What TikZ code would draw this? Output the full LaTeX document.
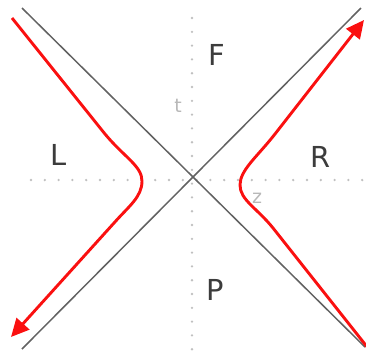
\documentclass[tikz,border=0pt]{standalone}
\usepackage{fontspec}
\setmainfont{DejaVu Sans}
\usetikzlibrary{arrows.meta}
\definecolor{axisgray}{HTML}{626262}
\definecolor{dotgray}{HTML}{C0C0C0}
\definecolor{labeldark}{HTML}{3C3C3C}
\definecolor{labellight}{HTML}{B8B8B8}
\definecolor{worldred}{HTML}{FA1010}
\tikzset{
  lightcone/.style={draw=axisgray, line width=1.5bp},
  dotaxis/.style={draw=dotgray, line width=2.6bp, line cap=round, dash pattern=on 0bp off 13.8bp},
  worldline/.style={draw=worldred, line width=2.9bp, -{Triangle[length=18bp,width=17bp]}},
  region/.style={text=labeldark, font=\fontsize{29}{29}\selectfont, inner sep=0pt},
  axislabel/.style={text=labellight, font=\fontsize{19}{19}\selectfont, inner sep=0pt}
}
\begin{document}
\begin{tikzpicture}[x=1bp, y=-1bp]
\useasboundingbox (0,0) rectangle (366,353);
% dotted axes
\coordinate (vtop) at (192,18);
\coordinate (vbot) at (192,352);
\coordinate (hleft) at (31,180);
\coordinate (hright) at (366,180);
\draw[dotaxis] (vtop) -- (vbot);
\draw[dotaxis] (hleft) -- (hright);
% light cone
\coordinate (a1) at (22,8);
\coordinate (a2) at (365,347);
\coordinate (b1) at (361,8);
\coordinate (b2) at (22,349);
\draw[lightcone] (a1) -- (a2);
\draw[lightcone] (b1) -- (b2);
% world lines
\coordinate (lstart) at (12,18);
\coordinate (lend) at (11,337);
\draw[worldline] (lstart) -- (105,134) .. controls (124,157) and (142,166) .. (142,181)
   .. controls (142,197) and (129,206) .. (114,223) -- (lend);
\coordinate (rstart) at (368,348);
\coordinate (rend) at (364,20);
\draw[worldline] (rstart) -- (273,228) .. controls (257,208) and (240,200) .. (240,185)
   .. controls (240,170) and (257,157) .. (275,134) -- (rend);
% labels
\node[region] (F) at (217,55) {F};
\node[region] (L) at (59,155) {L};
\node[region] (R) at (321,157) {R};
\node[region] (P) at (215,290) {P};
\node[axislabel] (t) at (178,106) {t};
\node[axislabel] (z) at (257,198) {z};
\end{tikzpicture}
\end{document}
